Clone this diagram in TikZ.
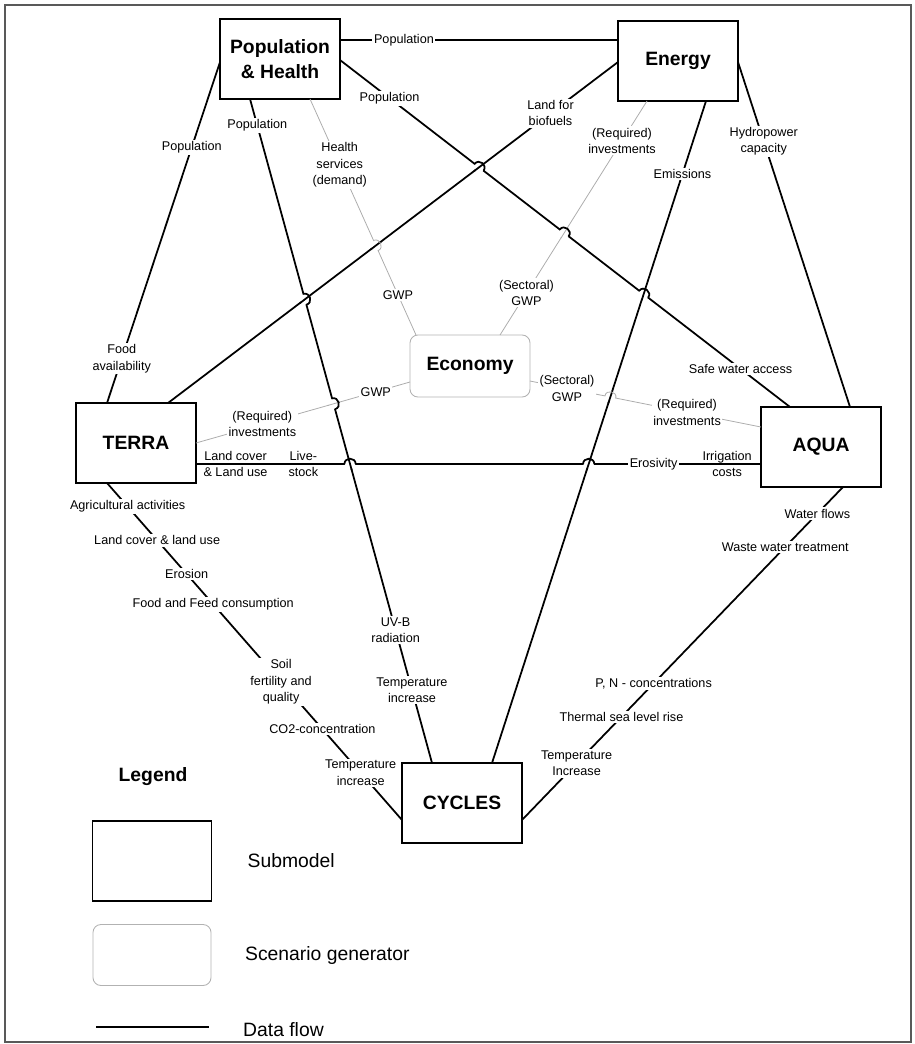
\documentclass[tikz,border=0pt]{standalone}
\usepackage{fontspec}
\setmainfont{Liberation Sans}
\usetikzlibrary{calc}
\usetikzlibrary{positioning}
\tikzset{
  submodel/.style = {draw, line width=1pt, minimum width=2.4cm, minimum height=1.6cm,
    outer sep=0pt, align=center, font=\bfseries\fontsize{11}{14}\selectfont},
  scenario/.style = {draw=gray!60, line width=0.5pt, rounded corners=4.5pt,
    minimum width=2.4cm, minimum height=1.24cm, outer sep=0pt, text=black,
    font=\bfseries\fontsize{11}{14}\selectfont},
  flow/.style = {line width=1pt},
  econ/.style = {gray!65, line width=0.45pt},
  lbl/.style = {fill=white, text=black, inner sep=0.9pt, align=center,
    font=\fontsize{7.2}{9.4}\selectfont},
  twoside/.style = {inner sep=0pt, text=black, align=center, font=\fontsize{7.2}{9.4}\selectfont},
  legtext/.style = {font=\fontsize{11}{14}\selectfont},
}
% bridge of line #2--#3 (style #1) over line #5--#6 (style #4)
\newcommand{\hop}[6]{%
  \coordinate (x) at (intersection of #2--#3 and #5--#6);
  \fill[white] (x) circle (3pt);
  \draw[#4] ($(x)!3.6pt!(#5)$) -- ($(x)!3.6pt!(#6)$);
  \draw[#1] ($(x)!3.2pt!(#2)$) to[bend left=90, looseness=1.6] ($(x)!3.2pt!(#3)$);
}

\begin{document}
\begin{tikzpicture}[x=0.02cm, y=0.02cm]
  \useasboundingbox (0,0) rectangle (915,-1044);
  \draw[gray!70!black, line width=0.6pt] (5,-5) rectangle (911,-1042);

  % submodels and scenario generator
  \node[submodel] (pop) at (280,-59) {Population\\\& Health};
  \node[submodel] (energy) at (678,-61) {Energy};
  \node[submodel] (terra) at (136,-443) {TERRA};
  \node[submodel] (aqua) at (821,-447) {AQUA};
  \node[submodel] (cycles) at (462,-803) {CYCLES};
  \node[scenario] (eco) at (470,-366) {Economy};

  % end points on the boxes
  \coordinate (popT) at ($(pop.north east)+(0,-21)$);
  \coordinate (popW) at ($(pop.north west)+(0,-43)$);
  \coordinate (popS) at ($(pop.south west)+(30,0)$);
  \coordinate (popG) at ($(pop.south west)+(90,0)$);
  \coordinate (popE) at ($(pop.north east)+(0,-41)$);
  \coordinate (enW) at ($(energy.north west)+(0,-41)$);
  \coordinate (enG) at ($(energy.south west)+(29,0)$);
  \coordinate (enS) at ($(energy.south west)+(88,0)$);
  \coordinate (enE) at ($(energy.north east)+(0,-41)$);
  \coordinate (teN1) at ($(terra.north west)+(31,0)$);
  \coordinate (teN2) at ($(terra.north west)+(92,0)$);
  \coordinate (teG) at ($(terra.north east)+(0,-40)$);
  \coordinate (teE) at ($(terra.north east)+(0,-61)$);
  \coordinate (teS) at ($(terra.south west)+(31,0)$);
  \coordinate (aqN1) at ($(aqua.north west)+(29,0)$);
  \coordinate (aqN2) at ($(aqua.north west)+(89,0)$);
  \coordinate (aqG) at ($(aqua.north west)+(0,-20)$);
  \coordinate (aqW) at (teE -| aqua.west);
  \coordinate (aqS) at ($(aqua.south west)+(82,0)$);
  \coordinate (cyN1) at ($(cycles.north west)+(30,0)$);
  \coordinate (cyN2) at ($(cycles.north west)+(90,0)$);
  \coordinate (cyW) at ($(cycles.north west)+(0,-57)$);
  \coordinate (cyE) at ($(cycles.north east)+(0,-57)$);
  \coordinate (ecN1) at ($(eco.north west)+(6,0)$);
  \coordinate (ecN2) at ($(eco.north west)+(90,0)$);
  \coordinate (ecW) at ($(eco.north west)+(0,-47)$);
  \coordinate (ecE) at ($(eco.north east)+(0,-46)$);

  % economy links
  \draw[econ] (popG) -- node[lbl, pos=0.28] (g1a) {Health\\services\\(demand)}
    node[lbl, pos=0.83] (g1b) {GWP} (ecN1);
  \draw[econ] (enG) -- node[lbl, pos=0.17] (g2a) {(Required)\\investments}
    node[lbl, pos=0.82] (g2b) {(Sectoral)\\GWP} (ecN2);
  \draw[econ] (ecW) -- node[lbl, pos=0.16] (g3a) {GWP}
    node[lbl, pos=0.69] (g3b) {(Required)\\investments} (teG);
  \draw[econ] (ecE) -- node[lbl, pos=0.16] (g4a) {(Sectoral)\\GWP}
    node[lbl, pos=0.68] (g4b) {(Required)\\investments} (aqG);

  % data flows
  \draw[flow] (popT) -- node[lbl, pos=0.23] (l1) {Population} (popT -| energy.west);
  \draw[flow] (popW) -- node[lbl, pos=0.25] (l2a) {Population}
    node[lbl, pos=0.87] (l2b) {Food\\availability} (teN1);
  \draw[flow] (popS) -- node[lbl, pos=0.04] (l3a) {Population}
    node[lbl, pos=0.80] (l3b) {UV-B\\radiation}
    node[lbl, pos=0.89] (l3c) {Temperature\\increase} (cyN1);
  \draw[flow] (popE) -- node[lbl, pos=0.11] (l4a) {Population}
    node[lbl, pos=0.89] (l4b) {Safe water access} (aqN1);
  \draw[flow] (teN2) -- node[lbl, pos=0.85] (l5) {Land for\\biofuels} (enW);
  \draw[flow] (enS) -- node[lbl, pos=0.11] (l6) {Emissions} (cyN2);
  \draw[flow] (enE) -- node[lbl, pos=0.23] (l7) {Hydropower\\capacity} (aqN2);
  \draw[flow] (teE) -- node[twoside, pos=0.07] (l8a) {Land cover\\\& Land use}
    node[twoside, pos=0.19] (l8b) {Live-\\stock}
    node[lbl, pos=0.81] (l8c) {Erosivity}
    node[twoside, pos=0.94] (l8d) {Irrigation\\costs} (aqW);
  \draw[flow] (teS) -- node[lbl, pos=0.07] (l9a) {Agricultural activities}
    node[lbl, pos=0.17] (l9b) {Land cover \& land use}
    node[lbl, pos=0.27] (l9c) {Erosion}
    node[lbl, pos=0.36] (l9d) {Food and Feed consumption}
    node[lbl, pos=0.59] (l9e) {Soil\\fertility and\\quality}
    node[lbl, pos=0.73] (l9f) {CO2-concentration}
    node[lbl, pos=0.86] (l9g) {Temperature\\increase} (cyW);
  \draw[flow] (aqS) -- node[lbl, pos=0.08] (l10a) {Water flows}
    node[lbl, pos=0.18] (l10b) {Waste water treatment}
    node[lbl, pos=0.59] (l10c) {P, N - concentrations}
    node[lbl, pos=0.69] (l10d) {Thermal sea level rise}
    node[lbl, pos=0.83] (l10e) {Temperature\\Increase} (cyE);

  % line bridges
  \hop{flow}{popS}{cyN1}{flow}{teN2}{enW}
  \hop{flow}{popS}{cyN1}{econ}{ecW}{teG}
  \hop{flow}{teE}{aqW}{flow}{popS}{cyN1}
  \hop{flow}{teE}{aqW}{flow}{enS}{cyN2}
  \hop{flow}{popE}{aqN1}{flow}{teN2}{enW}
  \hop{flow}{popE}{aqN1}{econ}{enG}{ecN2}
  \hop{flow}{popE}{aqN1}{flow}{enS}{cyN2}
  \hop{econ}{popG}{ecN1}{flow}{teN2}{enW}
  \hop{econ}{ecE}{aqG}{flow}{enS}{cyN2}

  % legend
  \node[font=\bfseries\fontsize{11}{14}\selectfont] (lgd) at (153,-777) {Legend};
  \node[submodel, minimum width=2.38cm] (lgsub) at (152,-861) {};
  \node[scenario, minimum width=2.36cm, minimum height=1.22cm] (lgscen) at (152,-955) {};
  \coordinate (lgA) at (96,-1027);
  \coordinate (lgB) at (209,-1027);
  \draw[flow] (lgA) -- (lgB);
  \node[legtext, right=0.6cm of lgsub] (lgsubt) {Submodel};
  \node[legtext, right=0.56cm of lgscen] (lgscent) {Scenario generator};
  \node[legtext, right=0.56cm of lgB, yshift=-0.06cm] (lgflow) {Data flow};
\end{tikzpicture}
\end{document}
